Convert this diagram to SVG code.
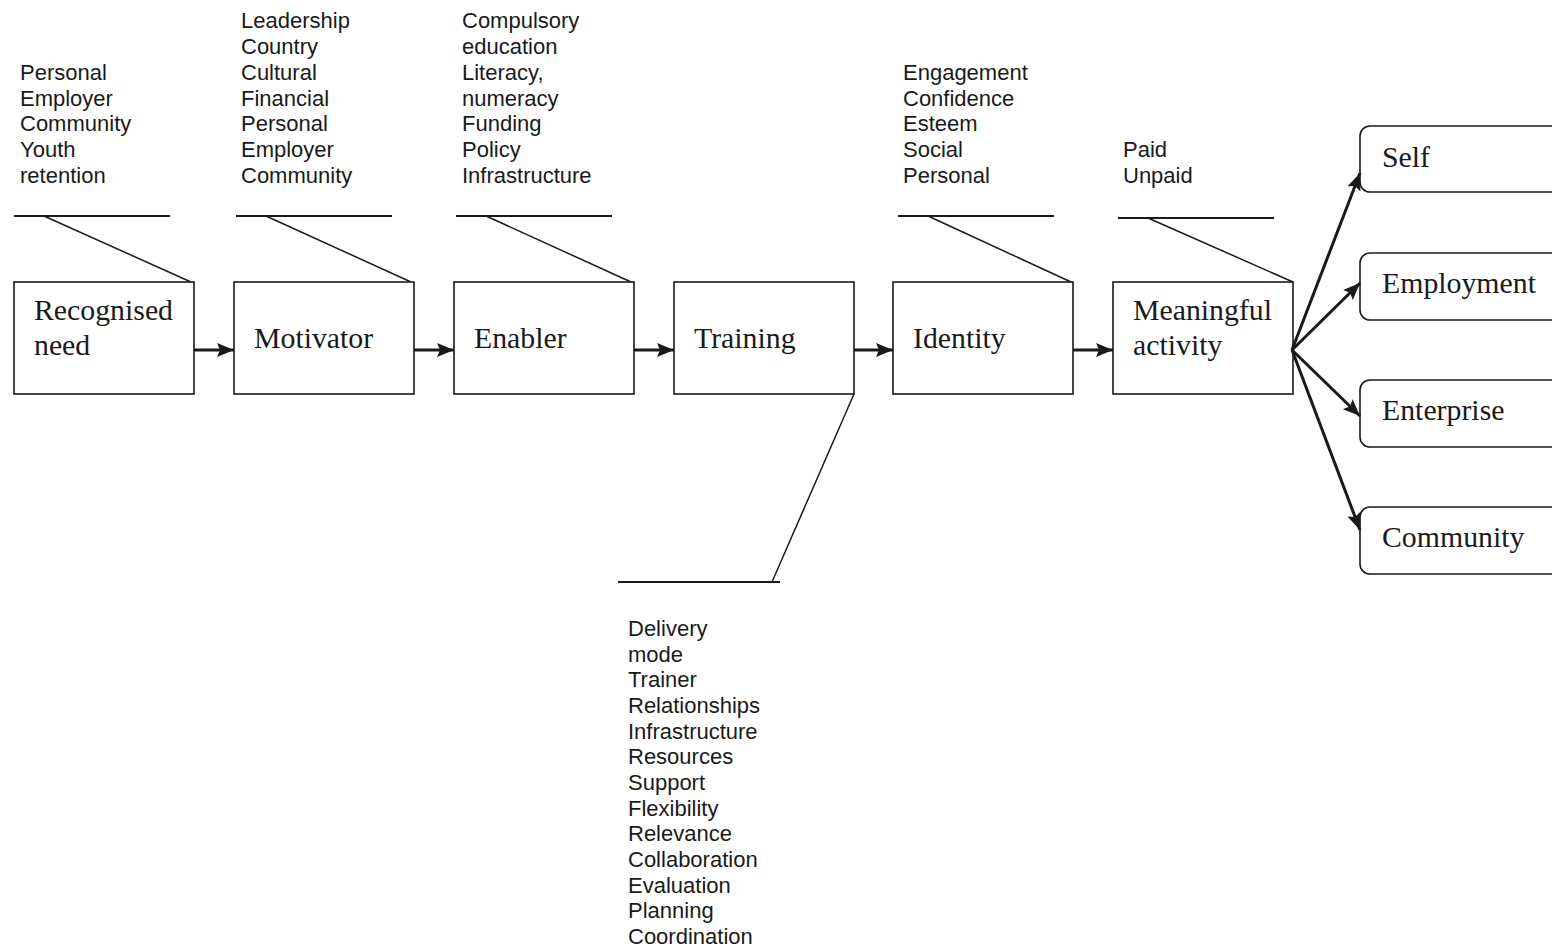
<svg xmlns="http://www.w3.org/2000/svg" width="1552" height="949" viewBox="0 0 1552 949">
<style>
.box{fill:#fff;stroke:#1a1a1a;stroke-width:1.6}
.rbox{fill:#fff;stroke:#1a1a1a;stroke-width:1.6}
.lbl{font-family:"Liberation Serif","Times New Roman",serif;font-size:29.8px;fill:#1a1a1a}
.note{font-family:"Liberation Sans",Arial,sans-serif;font-size:22px;fill:#1a1a1a}
.ln{stroke:#1a1a1a;stroke-width:1.5;fill:none}
.hl{stroke:#1a1a1a;stroke-width:2;fill:none}
.arr{stroke:#1a1a1a;stroke-width:3;fill:none;marker-end:url(#ah)}
</style>
<defs>
<marker id="ah" markerUnits="userSpaceOnUse" markerWidth="20" markerHeight="16" refX="17" refY="7" orient="auto">
<path d="M0,0 L17,7 L0,14 L3,7 Z" fill="#1a1a1a"/>
</marker>
</defs>
<rect width="1552" height="949" fill="#fff"/>

<g id="notes">
<text class="note" x="20" y="80">Personal</text>
<text class="note" x="20" y="106">Employer</text>
<text class="note" x="20" y="131">Community</text>
<text class="note" x="20" y="157">Youth</text>
<text class="note" x="20" y="183">retention</text>

<text class="note" x="241" y="28">Leadership</text>
<text class="note" x="241" y="54">Country</text>
<text class="note" x="241" y="80">Cultural</text>
<text class="note" x="241" y="106">Financial</text>
<text class="note" x="241" y="131">Personal</text>
<text class="note" x="241" y="157">Employer</text>
<text class="note" x="241" y="183">Community</text>

<text class="note" x="462" y="28">Compulsory</text>
<text class="note" x="462" y="54">education</text>
<text class="note" x="462" y="80">Literacy,</text>
<text class="note" x="462" y="106">numeracy</text>
<text class="note" x="462" y="131">Funding</text>
<text class="note" x="462" y="157">Policy</text>
<text class="note" x="462" y="183">Infrastructure</text>

<text class="note" x="903" y="80">Engagement</text>
<text class="note" x="903" y="106">Confidence</text>
<text class="note" x="903" y="131">Esteem</text>
<text class="note" x="903" y="157">Social</text>
<text class="note" x="903" y="183">Personal</text>

<text class="note" x="1123" y="157">Paid</text>
<text class="note" x="1123" y="183">Unpaid</text>

<text class="note" x="628" y="636">Delivery</text>
<text class="note" x="628" y="662">mode</text>
<text class="note" x="628" y="687">Trainer</text>
<text class="note" x="628" y="713">Relationships</text>
<text class="note" x="628" y="739">Infrastructure</text>
<text class="note" x="628" y="764">Resources</text>
<text class="note" x="628" y="790">Support</text>
<text class="note" x="628" y="816">Flexibility</text>
<text class="note" x="628" y="841">Relevance</text>
<text class="note" x="628" y="867">Collaboration</text>
<text class="note" x="628" y="893">Evaluation</text>
<text class="note" x="628" y="918">Planning</text>
<text class="note" x="628" y="944">Coordination</text>
</g>

<g id="callouts">
<line class="hl" x1="14" y1="216" x2="170" y2="216"/>
<line class="ln" x1="44" y1="216" x2="191" y2="282"/>
<line class="hl" x1="236" y1="216" x2="392" y2="216"/>
<line class="ln" x1="266" y1="216" x2="411" y2="282"/>
<line class="hl" x1="456" y1="216" x2="612" y2="216"/>
<line class="ln" x1="486" y1="216" x2="631" y2="282"/>
<line class="hl" x1="898" y1="216" x2="1054" y2="216"/>
<line class="ln" x1="928" y1="216" x2="1071" y2="282"/>
<line class="hl" x1="1118" y1="218" x2="1274" y2="218"/>
<line class="ln" x1="1148" y1="218" x2="1293" y2="282"/>
<line class="ln" x1="854" y1="394" x2="772" y2="582"/>
<line class="hl" x1="618" y1="582" x2="780" y2="582"/>
</g>

<g id="node-recognised-need">
<rect class="box" x="14" y="282" width="180" height="112"/>
<text class="lbl" x="34" y="320">Recognised</text>
<text class="lbl" x="34" y="355">need</text>
</g>
<g id="node-motivator">
<rect class="box" x="234" y="282" width="180" height="112"/>
<text class="lbl" x="254" y="348">Motivator</text>
</g>
<g id="node-enabler">
<rect class="box" x="454" y="282" width="180" height="112"/>
<text class="lbl" x="474" y="348">Enabler</text>
</g>
<g id="node-training">
<rect class="box" x="674" y="282" width="180" height="112"/>
<text class="lbl" x="694" y="348">Training</text>
</g>
<g id="node-identity">
<rect class="box" x="893" y="282" width="180" height="112"/>
<text class="lbl" x="913" y="348">Identity</text>
</g>
<g id="node-meaningful-activity">
<rect class="box" x="1113" y="282" width="180" height="112"/>
<text class="lbl" x="1133" y="320">Meaningful</text>
<text class="lbl" x="1133" y="355">activity</text>
</g>

<g id="node-self">
<rect class="rbox" x="1360" y="126" width="210" height="66" rx="10"/>
<text class="lbl" x="1382" y="167">Self</text>
</g>
<g id="node-employment">
<rect class="rbox" x="1360" y="253" width="210" height="67" rx="10"/>
<text class="lbl" x="1382" y="293">Employment</text>
</g>
<g id="node-enterprise">
<rect class="rbox" x="1360" y="380" width="210" height="67" rx="10"/>
<text class="lbl" x="1382" y="420">Enterprise</text>
</g>
<g id="node-community">
<rect class="rbox" x="1360" y="507" width="210" height="67" rx="10"/>
<text class="lbl" x="1382" y="547">Community</text>
</g>

<g id="connectors">
<line class="arr" x1="194" y1="350" x2="234" y2="350"/>
<line class="arr" x1="414" y1="350" x2="454" y2="350"/>
<line class="arr" x1="634" y1="350" x2="674" y2="350"/>
<line class="arr" x1="854" y1="350" x2="893" y2="350"/>
<line class="arr" x1="1073" y1="350" x2="1113" y2="350"/>
<line class="arr" x1="1292" y1="350" x2="1360" y2="173"/>
<line class="arr" x1="1292" y1="350" x2="1360" y2="283"/>
<line class="arr" x1="1292" y1="350" x2="1360" y2="416"/>
<line class="arr" x1="1292" y1="350" x2="1360" y2="530"/>
</g>
</svg>
